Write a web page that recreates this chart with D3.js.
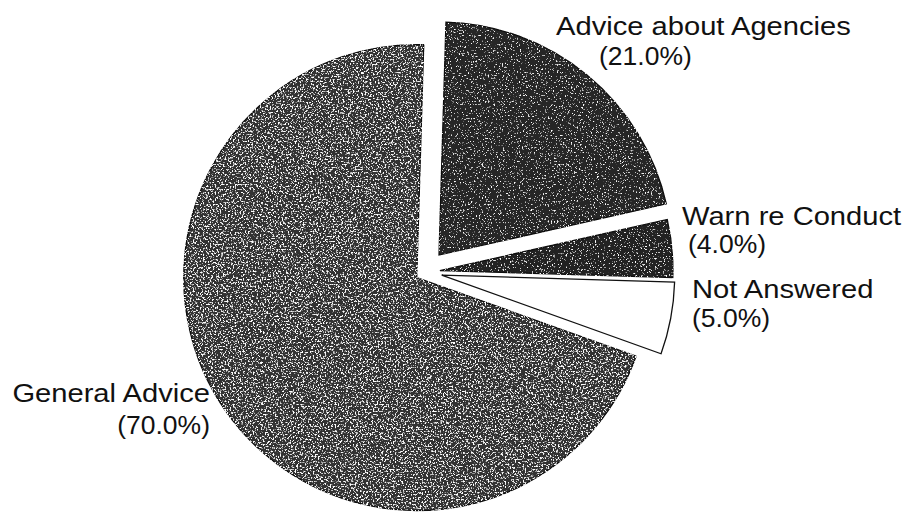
<!DOCTYPE html>
<html><head><meta charset="utf-8">
<script src="https://cdn.jsdelivr.net/npm/d3@7"></script>
<style>body{margin:0;background:#fff}svg{display:block}text{font-family:"Liberation Sans",Arial,sans-serif;fill:#111}</style>
</head><body>
<svg id="c" width="908" height="513"></svg>
<script>
const categories = ["Advice about Agencies", "Warn re Conduct", "Not Answered", "General Advice"];
const values = [21.0, 4.0, 5.0, 70.0];
const pctLabels = ["(21.0%)", "(4.0%)", "(5.0%)", "(70.0%)"];

const fills = ["#262626", "#202020", "#fff", "#333"];
const speckle = ["spkDark", "spkDark", null, "spkMid"];
const explode = [22, 15, 17, 10];
const labelPos = [
  {x:556, y:35, x2:599, y2:65, anchor:"start"},
  {x:682, y:225, x2:688, y2:253, anchor:"start"},
  {x:692, y:298, x2:692, y2:327, anchor:"start"},
  {x:210, y:402, x2:210, y2:434, anchor:"end"}
];

const svg = d3.select("#c");
const defs = svg.append("defs");
function mkFilter(id, a, b, freq){
  const f = defs.append("filter").attr("id", id).attr("x","-5%").attr("y","-5%").attr("width","110%").attr("height","110%");
  f.append("feTurbulence").attr("type","fractalNoise").attr("baseFrequency",freq).attr("numOctaves",2).attr("seed",7).attr("result","noise");
  f.append("feColorMatrix").attr("in","noise").attr("type","matrix")
    .attr("values",`0 0 0 0 1  0 0 0 0 1  0 0 0 0 1  ${a} 0 0 0 ${b}`).attr("result","dots");
  f.append("feComposite").attr("in","dots").attr("in2","SourceGraphic").attr("operator","in").attr("result","d2");
  const m = f.append("feMerge");
  m.append("feMergeNode").attr("in","SourceGraphic");
  m.append("feMergeNode").attr("in","d2");
}
mkFilter("spkMid", 7, -3.8, 0.6);
mkFilter("spkDark", 7, -4.3, 0.65);

const cx = 425, cy = 272, r = 233;
const rot = 0.03;
const pie = d3.pie().sort(null).value(d => d).startAngle(rot).endAngle(2*Math.PI + rot);
const arcs = pie(values);
const arc = d3.arc().innerRadius(0).outerRadius(r);

const g = svg.append("g").attr("transform", `translate(${cx},${cy})`);
g.selectAll("path").data(arcs).join("path")
  .attr("d", arc)
  .attr("transform", (d,i) => {
    const m = (d.startAngle + d.endAngle)/2;
    return `translate(${explode[i]*Math.sin(m)},${-explode[i]*Math.cos(m)})`;
  })
  .attr("fill", (d,i) => fills[i])
  .attr("stroke", "#111").attr("stroke-width", 1.3)
  .attr("filter", (d,i) => speckle[i] ? `url(#${speckle[i]})` : null);

const sx = 1.1;
const lg = svg.append("g");
categories.forEach((c,i) => {
  const p = labelPos[i];
  lg.append("text").attr("transform", `translate(${p.x},${p.y}) scale(${sx},1)`).attr("text-anchor", p.anchor)
    .attr("font-size", 26.5).text(c);
  lg.append("text").attr("transform", `translate(${p.x2},${p.y2})`).attr("text-anchor", p.anchor)
    .attr("font-size", 26.5).text(pctLabels[i]);
});
</script>
</body></html>
